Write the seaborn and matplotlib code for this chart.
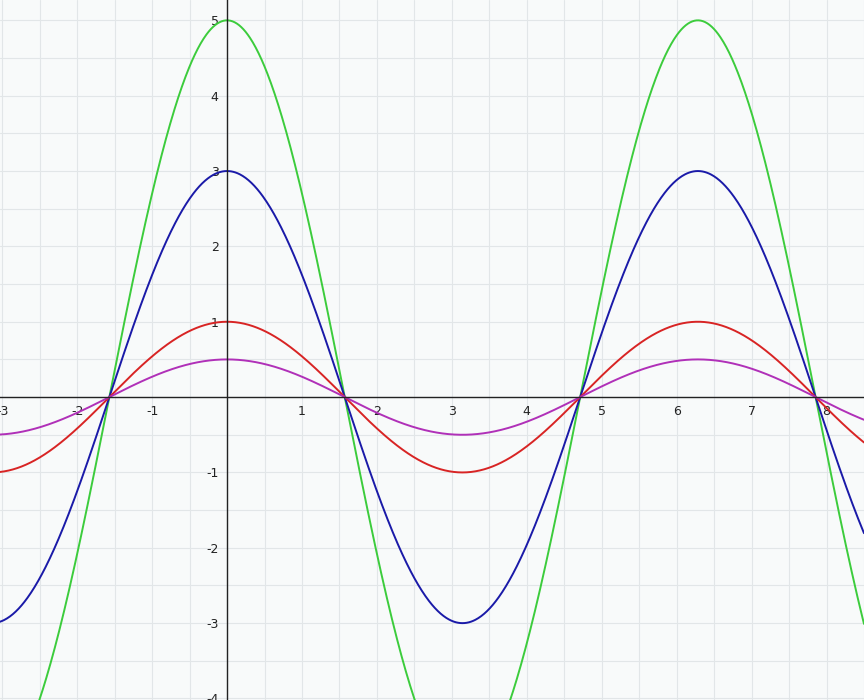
import numpy as np
import pandas as pd
import matplotlib
matplotlib.use("Agg")
import matplotlib.pyplot as plt
import seaborn as sns

# Curves y = A * cos(x)
amplitudes = [5, 3, 1, 0.5]
colors = ["#3ccc3c", "#1a1aa8", "#d82424", "#b030b8"]
x_ticks = [-3, -2, -1, 1, 2, 3, 4, 5, 6, 7, 8]
y_ticks = [-4, -3, -2, -1, 1, 2, 3, 4, 5]

x = np.linspace(-3.1, 8.5, 1200)
frames = []
for a in amplitudes:
    frames.append(pd.DataFrame({"x": x, "y": a * np.cos(x), "A": str(a)}))
df = pd.concat(frames, ignore_index=True)

sns.set_style("white")
fig = plt.figure(figsize=(8.64, 7.0), dpi=100)
ax = fig.add_axes([0, 0, 1, 1])
ax.set_facecolor("#f8fafa")

sns.lineplot(data=df, x="x", y="y", hue="A", palette=dict(zip([str(a) for a in amplitudes], colors)),
             linewidth=1.4, ax=ax, legend=False, sort=False, estimator=None)

ax.set_xlim(-3.03, 8.45)
ax.set_ylim(-4.02, 5.27)

# faint grid
ax.set_xticks(np.arange(-3, 8.6, 0.5), minor=True)
ax.set_yticks(np.arange(-4, 5.3, 0.5), minor=True)
ax.grid(which="minor", color="#e2e6e8", linewidth=0.8)
ax.grid(which="major", color="#e2e6e8", linewidth=0.8)
ax.set_axisbelow(True)

for s in ["top", "right"]:
    ax.spines[s].set_visible(False)
ax.spines["left"].set_position(("data", 0))
ax.spines["bottom"].set_position(("data", 0))
ax.spines["left"].set_color("#222222")
ax.spines["bottom"].set_color("#222222")
ax.spines["left"].set_linewidth(1.0)
ax.spines["bottom"].set_linewidth(1.0)

ax.set_xticks(x_ticks)
ax.set_xticklabels([str(t) for t in x_ticks])
ax.set_yticks(y_ticks)
ax.set_yticklabels([str(t) for t in y_ticks])
ax.tick_params(which="major", direction="inout", length=8, width=1, color="#222222",
               labelsize=9, labelcolor="#222222", pad=2)
ax.tick_params(which="minor", length=0)
ax.set_xlabel("")
ax.set_ylabel("")

fig.savefig("out.png", dpi=100, facecolor="#f8fafa")
